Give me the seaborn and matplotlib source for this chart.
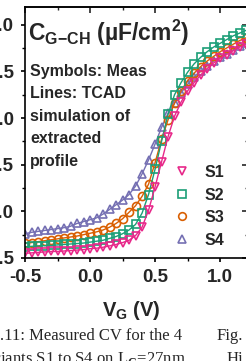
import pandas as pd
import matplotlib.pyplot as plt
from matplotlib.lines import Line2D
from matplotlib.ticker import MultipleLocator, FormatStrFormatter
import seaborn as sns

# gate voltage sweep (V)
vg = [-0.50, -0.45, -0.40, -0.35, -0.30, -0.25, -0.20, -0.15, -0.10, -0.05,
      0.00, 0.05, 0.10, 0.15, 0.20, 0.25, 0.30, 0.35, 0.40, 0.45,
      0.50, 0.55, 0.60, 0.65, 0.70, 0.75, 0.80, 0.85, 0.90, 0.95,
      1.00, 1.05, 1.10, 1.15, 1.20]

# C_G-CH (uF/cm2) for the four variants
s1 = [0.55, 0.555, 0.56, 0.565, 0.57, 0.57, 0.575, 0.58, 0.585, 0.59,
      0.60, 0.605, 0.615, 0.63, 0.645, 0.665, 0.69, 0.74, 0.83, 1.01,
      1.26, 1.53, 1.80, 2.02, 2.17, 2.29, 2.38, 2.46, 2.53, 2.59,
      2.64, 2.68, 2.72, 2.76, 2.79]
s2 = [0.62, 0.625, 0.63, 0.632, 0.635, 0.64, 0.645, 0.65, 0.655, 0.66,
      0.67, 0.68, 0.69, 0.71, 0.73, 0.76, 0.80, 0.86, 0.98, 1.18,
      1.45, 1.75, 2.04, 2.25, 2.38, 2.49, 2.58, 2.65, 2.71, 2.76,
      2.80, 2.84, 2.88, 2.91, 2.94]
s3 = [0.66, 0.665, 0.675, 0.685, 0.695, 0.705, 0.715, 0.725, 0.735, 0.75,
      0.765, 0.78, 0.80, 0.83, 0.87, 0.92, 0.99, 1.06, 1.16, 1.29,
      1.52, 1.77, 1.98, 2.16, 2.29, 2.40, 2.48, 2.55, 2.61, 2.66,
      2.71, 2.75, 2.79, 2.83, 2.86]
s4 = [0.76, 0.775, 0.785, 0.795, 0.805, 0.815, 0.825, 0.84, 0.87, 0.89,
      0.91, 0.93, 0.97, 1.02, 1.07, 1.12, 1.18, 1.27, 1.40, 1.55,
      1.72, 1.90, 2.05, 2.16, 2.27, 2.36, 2.44, 2.50, 2.56, 2.61,
      2.65, 2.69, 2.73, 2.77, 2.80]

names = ["S1", "S2", "S3", "S4"]
colors = {"S1": "#e7298a", "S2": "#1b9e77", "S3": "#d95f02", "S4": "#7570b3"}
markers = {"S1": "v", "S2": "s", "S3": "o", "S4": "^"}

df = pd.DataFrame({"VG": vg * 4,
                   "C": s1 + s2 + s3 + s4,
                   "sample": sum([[n] * len(vg) for n in names], [])})

sns.set_theme(style="ticks")
plt.rcParams["font.family"] = ["Liberation Sans", "DejaVu Sans"]
plt.rcParams["font.weight"] = "bold"
plt.rcParams["mathtext.fontset"] = "custom"
plt.rcParams["mathtext.rm"] = "Liberation Serif"
plt.rcParams["mathtext.bf"] = "Liberation Sans:bold"

fig = plt.figure(figsize=(2.46, 3.61), dpi=100)
ax = fig.add_axes([25 / 246, 1 - 258 / 361, 223 / 246, 251 / 361])

# TCAD lines + measured symbols
sns.lineplot(data=df, x="VG", y="C", hue="sample", style="sample",
             hue_order=["S4", "S3", "S2", "S1"], style_order=["S4", "S3", "S2", "S1"],
             palette=colors, markers=markers, dashes=False, legend=False,
             lw=1.0, markersize=5.8, ax=ax)
for line in ax.lines:
    line.set_markeredgecolor(line.get_color())
    line.set_markerfacecolor("none")
    line.set_markeredgewidth(1.2)

ax.set_xlim(-0.5, 1.215)
ax.set_ylim(0.5, 3.19)
ax.set_xlabel("")
ax.set_ylabel("")

ax.xaxis.set_major_locator(MultipleLocator(0.5))
ax.xaxis.set_minor_locator(MultipleLocator(0.25))
ax.yaxis.set_major_locator(MultipleLocator(0.5))
ax.yaxis.set_minor_locator(MultipleLocator(0.25))
ax.xaxis.set_major_formatter(FormatStrFormatter("%.1f"))
ax.yaxis.set_major_formatter(FormatStrFormatter("%.1f"))
ax.tick_params(which="major", direction="out", length=3, width=1.2,
               labelsize=13.5, pad=5, color="black")
ax.tick_params(which="minor", direction="out", length=2, width=1.0, color="black")
for sp in ax.spines.values():
    sp.set_visible(True)
    sp.set_linewidth(1.2)
    sp.set_color("black")

# mirrored ticks on top and right, pointing inwards
top = ax.secondary_xaxis("top")
top.xaxis.set_major_locator(MultipleLocator(0.5))
top.xaxis.set_minor_locator(MultipleLocator(0.25))
top.tick_params(which="major", direction="in", length=4, width=1.2, labeltop=False)
top.tick_params(which="minor", direction="in", length=2.5, width=1.0)
right = ax.secondary_yaxis("right")
right.yaxis.set_major_locator(MultipleLocator(0.5))
right.yaxis.set_minor_locator(MultipleLocator(0.25))
right.tick_params(which="major", direction="in", length=4, width=1.2, labelright=False)
right.tick_params(which="minor", direction="in", length=2.5, width=1.0)

handles = [Line2D([], [], ls="none", marker=markers[n], mfc="none", mec=colors[n],
                  ms=5.5, mew=1.2) for n in names]
ax.legend(handles, names, loc="upper left", bbox_to_anchor=(174 / 246, 1 - 165 / 361),
          bbox_transform=fig.transFigure, frameon=False, handlelength=1.0,
          handletextpad=0.9, labelspacing=0.47, borderpad=0, borderaxespad=0,
          prop={"weight": "bold", "size": 11.5})

fig.text(28 / 246, 1 - 41 / 361, r"C$_\mathbf{G{-}CH}$ (µF/cm$^\mathbf{2}$)",
         fontsize=16.5, fontweight="bold", va="baseline")
fig.text(30 / 246, 1 - 64 / 361,
         "Symbols: Meas\nLines: TCAD\nsimulation of\nextracted\nprofile",
         fontsize=11.5, fontweight="bold", va="top", linespacing=1.62)
fig.text(131 / 246, 1 - 316 / 361, r"V$_\mathbf{G}$ (V)", fontsize=14.5,
         fontweight="bold", ha="center", va="baseline")

# caption pieces of the surrounding document
cap = {"family": "Liberation Serif", "size": 12, "weight": "normal"}
fig.text(-39 / 246, 1 - 340 / 361, "Fig. 3.11: Measured CV for the 4",
         ha="left", va="baseline", fontdict=cap)
fig.text(217 / 246, 1 - 340 / 361, "Fig.", ha="left", va="baseline", fontdict=cap)
fig.text(-21 / 246, 1 - 363 / 361, r"variants S1 to S4 on L$_\mathrm{G}$=27nm.",
         ha="left", va="baseline", fontdict=cap)
fig.text(227 / 246, 1 - 363 / 361, "Hi", ha="left", va="baseline", fontdict=cap)

fig.savefig("out.png", dpi=100)
